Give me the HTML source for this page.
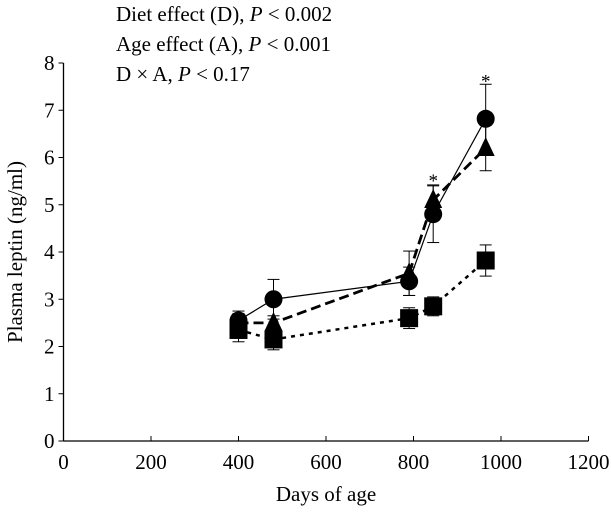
<!DOCTYPE html>
<html><head><meta charset="utf-8"><style>
body{margin:0;background:#fff}
svg text{font-family:"Liberation Serif",serif;fill:#000}
</style></head><body>
<svg width="611" height="515" id="c"></svg>
<script>
const days=[400,480,790,845,965];
const circleVals=[2.55,3.0,3.38,4.8,6.82];
const circleErr=[0.2,0.42,0.3,0.6,0.73];
const triVals=[2.5,2.5,3.55,5.1,6.2];
const triErr=[0.2,0.15,0.47,0.32,0.48];
const sqVals=[2.35,2.15,2.6,2.85,3.82];
const sqErr=[0.25,0.22,0.22,0.2,0.33];
const xTicks=[0,200,400,600,800,1000,1200];
const yTicks=[0,1,2,3,4,5,6,7,8];
const starDays=[845,965];
const starVals=[5.55,7.65];
const NS="http://www.w3.org/2000/svg";
const svg=document.getElementById('c');
const X=v=>63.5+v*0.4375, Y=v=>441-v*47.25;
function el(t,a,p){const e=document.createElementNS(NS,t);for(const k in a)e.setAttribute(k,a[k]);(p||svg).appendChild(e);return e;}
let ax=el('line',{x1:X(0),y1:Y(0),x2:X(1200),y2:Y(0),stroke:'#000','stroke-width':1.3});

let ay=el('line',{x1:X(0),y1:Y(0),x2:X(0),y2:Y(8),stroke:'#000','stroke-width':1.3});

xTicks.forEach(t=>{el('line',{x1:X(t),x2:X(t),y1:Y(0),y2:Y(0)-5,stroke:'#000'});
 let tx=el('text',{x:X(t),y:Y(0)+28,'text-anchor':'middle','font-size':21});tx.textContent=t;
 });
yTicks.forEach(t=>{el('line',{x1:X(0)-5,x2:X(0),y1:Y(t),y2:Y(t),stroke:'#000'});
 let tx=el('text',{x:X(0)-9,y:Y(t)+7,'text-anchor':'end','font-size':21});tx.textContent=t;
 });
let xt=el('text',{x:326,y:501,'text-anchor':'middle','font-size':21});xt.textContent='Days of age';

let yt=el('text',{x:0,y:0,'text-anchor':'middle','font-size':21,transform:'translate(22,252) rotate(-90)'});yt.textContent='Plasma leptin (ng/ml)';

const notes=[['Diet effect (D), ','P',' < 0.002'],['Age effect (A), ','P',' < 0.001'],['D × A, ','P',' < 0.17']];
notes.forEach((n,i)=>{let t=el('text',{x:116,y:21+i*30,'font-size':21});
 
 let a=el('tspan',{},t);a.textContent=n[0];let b=el('tspan',{'font-style':'italic'},t);b.textContent=n[1];let c=el('tspan',{},t);c.textContent=n[2];});
function series(vals,err,dash,w,name,marker){
 const g=el('g',{});
 vals.forEach((v,i)=>{const x=X(days[i]);el('line',{x1:x,x2:x,y1:Y(v-err[i]),y2:Y(v+err[i]),stroke:'#000'},g);
  [v-err[i],v+err[i]].forEach(e=>el('line',{x1:x-6,x2:x+6,y1:Y(e),y2:Y(e),stroke:'#000'},g));});
 el('polyline',{points:vals.map((v,i)=>X(days[i])+','+Y(v)).join(' '),fill:'none',stroke:'#000','stroke-width':w,'stroke-dasharray':dash},g);
 vals.forEach((v,i)=>{const x=X(days[i]),y=Y(v);let m;
  if(marker=='c')m=el('circle',{cx:x,cy:y,r:9},g);
  else if(marker=='t')m=el('polygon',{points:`${x},${y-11} ${x-9},${y+8} ${x+9},${y+8}`},g);
  else m=el('rect',{x:x-9,y:y-9,width:18,height:18},g);
  });
}
series(sqVals,sqErr,'4,5',2.5,'series-square','s');
series(triVals,triErr,'10,5',2.8,'series-triangle','t');
series(circleVals,circleErr,'none',1.2,'series-circle','c');
starDays.forEach((d,i)=>{let t=el('text',{x:X(d),y:Y(starVals[i])+8,'text-anchor':'middle','font-size':19});t.textContent='*';
 });
</script>
</body></html>
